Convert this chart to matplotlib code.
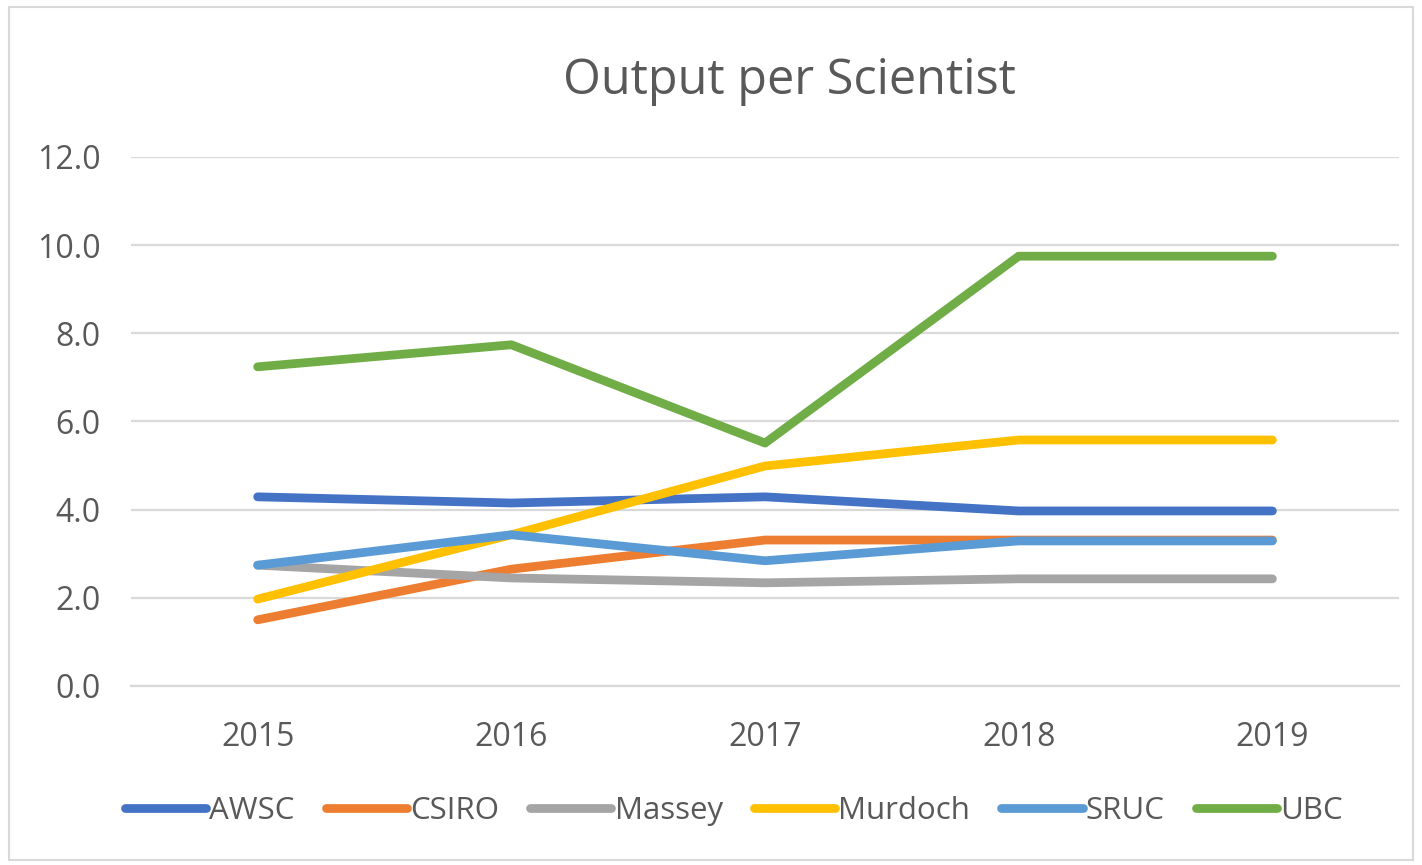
import matplotlib.pyplot as plt
from matplotlib.patches import Rectangle

# === Données ===
years = ["2015", "2016", "2017", "2018", "2019"]
awsc = [4.29, 4.15, 4.29, 3.97, 3.97]
csiro = [1.50, 2.65, 3.31, 3.31, 3.31]
massey = [2.74, 2.45, 2.34, 2.43, 2.43]
murdoch = [1.97, 3.43, 4.99, 5.58, 5.58]
sruc = [2.74, 3.43, 2.84, 3.29, 3.29]
ubc = [7.24, 7.74, 5.51, 9.75, 9.75]

series = [
    ("AWSC", awsc, "#4472C4"),
    ("CSIRO", csiro, "#ED7D31"),
    ("Massey", massey, "#A5A5A5"),
    ("Murdoch", murdoch, "#FFC000"),
    ("SRUC", sruc, "#5B9BD5"),
    ("UBC", ubc, "#70AD47"),
]

plt.rcParams['font.family'] = ['Open Sans', 'DejaVu Sans']
text_color = "#595959"

fig = plt.figure(figsize=(14.22, 8.65), dpi=100)
ax = fig.add_axes([0.092, 0.207, 0.892, 0.6115])

x = range(len(years))
for name, vals, color in series:
    ax.plot(x, vals, color=color, linewidth=6.3, solid_capstyle='round',
            solid_joinstyle='round', label=name)

ax.set_xlim(-0.5, len(years) - 0.5)
ax.set_ylim(0, 12)
ax.set_yticks(range(0, 13, 2))
ax.set_yticklabels([f"{v:.1f}" for v in range(0, 13, 2)])
ax.set_xticks(list(x))
ax.set_xticklabels(years)
ax.yaxis.grid(True, color="#D9D9D9", linewidth=1.6)
ax.set_axisbelow(True)
for s in ax.spines.values():
    s.set_visible(False)
ax.spines['bottom'].set_visible(True)
ax.spines['bottom'].set_color("#D9D9D9")
ax.spines['bottom'].set_linewidth(1.6)
ax.tick_params(axis='both', length=0, labelsize=23, labelcolor=text_color)
ax.tick_params(axis='x', pad=25)
ax.tick_params(axis='y', pad=22)

fig.text(0.555, 0.906, "Output per Scientist", ha='center', va='center',
         fontsize=35, color=text_color)

fig.legend(loc='center', bbox_to_anchor=(0.516, 0.062), ncol=6, frameon=False,
           fontsize=22.5, handlelength=2.6, handletextpad=0.1, columnspacing=1.0,
           labelcolor=text_color)

# cadre du graphique
fig.patches.append(Rectangle((0.006, 0.006), 0.988, 0.986, transform=fig.transFigure,
                             fill=False, edgecolor="#D9D9D9", linewidth=1.5))

plt.savefig("out.png", dpi=100)
